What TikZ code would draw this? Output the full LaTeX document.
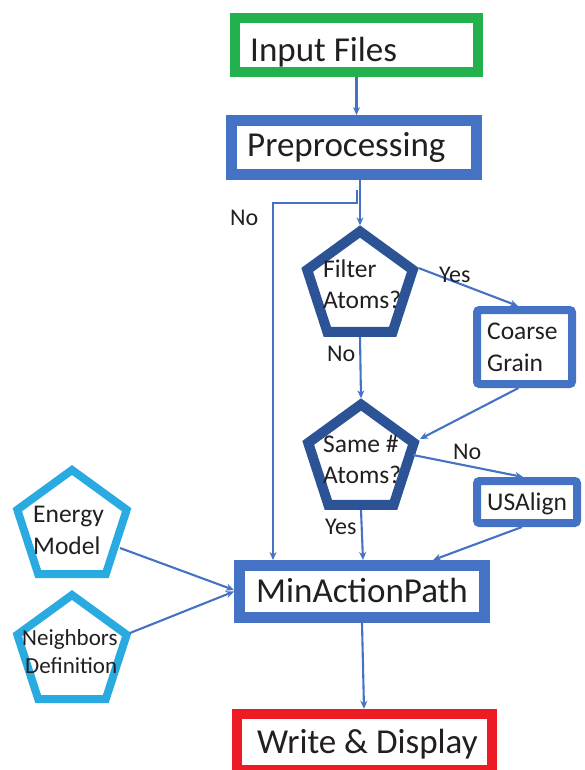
\documentclass[tikz,border=0pt]{standalone}
\usepackage{fontspec}
\setmainfont{Carlito}
\usetikzlibrary{shapes.geometric,arrows.meta,calc}
\definecolor{cgreen}{RGB}{34,177,76}
\definecolor{cblue}{RGB}{68,114,196}
\definecolor{cdark}{RGB}{44,83,150}
\definecolor{clight}{RGB}{41,171,226}
\definecolor{cred}{RGB}{237,28,36}
\definecolor{ctext}{RGB}{35,31,32}
\begin{document}
\begin{tikzpicture}[x=1pt,y=1pt,
  box/.style={draw, fill=white, rectangle, inner sep=0pt},
  penta/.style={draw, fill=white, regular polygon, regular polygon sides=5, inner sep=0pt, line join=miter},
  conn/.style={draw=cblue, line width=2.1pt, -{Stealth[length=8pt,width=7pt]}},
  lbl/.style={anchor=base west, inner sep=0pt, text=ctext, font=\fontsize{24}{24}\selectfont},
  big/.style={anchor=base west, inner sep=0pt, text=ctext, font=\fontsize{35}{35}\selectfont},
  mid/.style={anchor=base west, inner sep=0pt, text=ctext, font=\fontsize{25.5}{25.5}\selectfont},
  sml/.style={anchor=base west, inner sep=0pt, text=ctext, font=\fontsize{23}{23}\selectfont},
]
\useasboundingbox (0,0) rectangle (584,-770);

% shapes
\node[box, draw=cgreen, line width=10pt, minimum width=243pt, minimum height=54pt] (input) at (356.5,-45) {};
\node[box, draw=cblue, line width=11pt, minimum width=245pt, minimum height=54pt] (pre) at (354,-147.5) {};
\node[penta, draw=cdark, line width=10pt, minimum size=111pt] (filter) at (360,-287) {};
\node[box, draw=cblue, line width=8pt, rounded corners=2.5pt, minimum width=95pt, minimum height=74pt] (coarse) at (524.5,-347) {};
\node[penta, draw=cdark, line width=10pt, minimum size=111pt] (same) at (361,-460) {};
\node[box, draw=cblue, line width=8pt, rounded corners=2.5pt, minimum width=100pt, minimum height=42pt] (usalign) at (527,-502) {};
\node[penta, draw=clight, line width=8pt, minimum size=115pt] (energy) at (72,-527.5) {};
\node[penta, draw=clight, line width=8pt, minimum size=115pt] (neigh) at (72,-652.5) {};
\node[box, draw=cblue, line width=11pt, minimum width=245pt, minimum height=52pt] (minact) at (362,-591.5) {};
\node[box, draw=cred, line width=10.5pt, minimum width=255pt, minimum height=56pt] (write) at (364.5,-742) {};

% texts
\node[big] (tInput) at (250,-62) {Input Files};
\node[big] (tPre) at (247,-157) {Preprocessing};
\node[mid] (tFilter1) at (323,-277) {Filter};
\node[mid] (tFilter2) at (323,-308) {Atoms?};
\node[mid] (tCoarse1) at (487,-339) {Coarse};
\node[mid] (tCoarse2) at (487,-371) {Grain};
\node[mid] (tSame1) at (323,-452) {Same \#};
\node[mid] (tSame2) at (323,-483) {Atoms?};
\node[mid] (tUS) at (487,-510) {USAlign};
\node[mid] (tEnergy1) at (33,-522) {Energy};
\node[mid] (tEnergy2) at (33,-554) {Model};
\node[sml] (tNeigh1) at (22,-645) {Neighbors};
\node[sml] (tNeigh2) at (25,-673) {Definition};
\node[big] (tMin) at (256,-602) {MinActionPath};
\node[big] (tWrite) at (257,-753) {Write \& Display};

% connectors
\coordinate (noStart) at (357,-190);
\coordinate (noCorner) at (273,-203);
\draw[conn] (input.south) -- (input.south |- pre.north);
\draw[conn] (filter.north |- pre.south) -- (filter.north);
\draw[conn] (noStart) |- (noCorner) -- (noCorner |- minact.north);
\draw[conn] ($(filter.center)+(58.5,19)$) -- ([xshift=-6.5pt]coarse.north);
\draw[conn] (filter.south) -- (same.north);
\draw[conn] ([xshift=-6pt]coarse.south) -- ($(same.center)+(59,21)$);
\draw[conn] ($(same.center)+(52,5)$) -- ([xshift=-4pt]usalign.north);
\draw[conn] (same.south) -- ([xshift=1pt]minact.north);
\draw[conn] ([xshift=-5pt]usalign.south) -- ([xshift=71pt]minact.north);
\draw[conn] ($(energy.center)+(48,-20.5)$) -- ([yshift=1.5pt]minact.west);
\draw[conn] ($(neigh.center)+(58,19.5)$) -- (minact.west);
\draw[conn] (minact.south) -- ([xshift=-0.5pt]write.north);

% labels
\node[lbl] (lNo1) at (230,-225) {No};
\node[lbl] (lYes1) at (439,-282) {Yes};
\node[lbl] (lNo2) at (327,-361) {No};
\node[lbl] (lNo3) at (453,-459) {No};
\node[lbl] (lYes2) at (325,-534) {Yes};
\end{tikzpicture}
\end{document}
